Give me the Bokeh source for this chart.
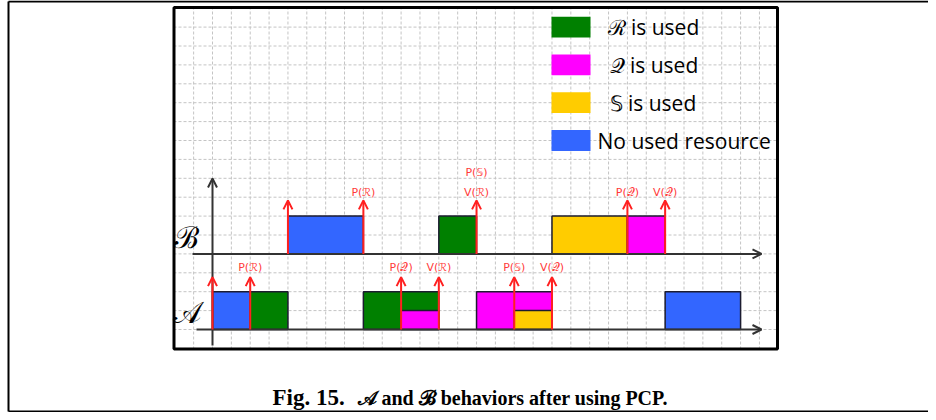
import numpy as np
from bokeh.plotting import figure
from bokeh.models import Range1d, Arrow, OpenHead, ColumnDataSource
from bokeh.core.properties import value
from bokeh.embed import file_html
from bokeh.resources import INLINE

# ---------------- data ----------------
RES_KEYS = ["R", "Q", "S", "none"]
RES_LABELS = ["ℛ is used", "𝒬 is used", "𝕊 is used", "No used resource"]
RES_COLORS = ["#008000", "#ff00ff", "#ffcc00", "#3366ff"]

# task B (upper row)
B_START = [4, 12, 18, 22]
B_END = [8, 14, 22, 24]
B_RES = ["none", "R", "S", "Q"]

# task A (lower row); A_TOP = height of the block (split blocks are half height)
A_START = [0, 2, 8, 10, 14, 16, 24]
A_END = [2, 4, 12, 12, 18, 18, 28]
A_TOP = [2, 2, 2, 1, 2, 1, 2]
A_RES = ["none", "R", "R", "Q", "Q", "S", "none"]

# release / semaphore event arrows
B_ARROWS = [4, 8, 14, 22, 24]
A_ARROWS = [0, 2, 10, 12, 16, 18]
B_EVENT_T = [8, 14, 14, 22, 24]
B_EVENT = ["P(ℛ)", "V(ℛ)", "P(𝕊)", "P(𝒬)", "V(𝒬)"]
B_EVENT_ROW = [0, 0, 1, 0, 0]
A_EVENT_T = [2, 10, 12, 16, 18]
A_EVENT = ["P(ℛ)", "P(𝒬)", "V(ℛ)", "P(𝕊)", "V(𝒬)"]

ROW_NAMES = ["ℬ", "𝒜"]
CAPTION_A = "Fig. 15."
CAPTION_B = "𝒜 and ℬ behaviors after using PCP."

BAR_H = 2
B_BASE = 4
A_BASE = 0

# ---------------- layout helpers (picture pixels -> data units) ----------------
PX_X, X0 = 18.86, 212.0
PX_Y, Y0 = 18.9, 329.0
def tx(px):
    return (px - X0) / PX_X
def ty(py):
    return (Y0 - py) / PX_Y

W, H = 928, 412
color_of = dict(zip(RES_KEYS, RES_COLORS))

p = figure(width=W, height=H,
           x_range=Range1d(tx(0), tx(W)), y_range=Range1d(ty(H), ty(0)),
           x_axis_type=None, y_axis_type=None, min_border=0,
           outline_line_color=None, toolbar_location=None,
           output_backend="svg", background_fill_color="white")
p.grid.visible = False

# grid inside inner box
gx = np.arange(-1, 30)
p.segment(x0=gx, y0=ty(349), x1=gx, y1=ty(7), line_color="#c4c4c4",
          line_width=1, line_dash="3 2")
gy = np.arange(-1, 17)
p.segment(x0=tx(173), y0=gy, x1=tx(777), y1=gy, line_color="#c4c4c4",
          line_width=1, line_dash="3 2")

# inner box
p.quad(left=tx(173.5), right=tx(777), top=ty(7), bottom=ty(348.5),
       fill_color=None, line_color="black", line_width=3)

# outer frame (top, left & bottom)
p.segment(x0=[tx(8), tx(8), tx(8)], y0=[ty(1), ty(1), ty(411)],
          x1=[tx(W), tx(8), tx(W)], y1=[ty(1), ty(411), ty(411)],
          line_color="black", line_width=2)

# bars
p.quad(left=B_START, right=B_END, bottom=[B_BASE] * len(B_START),
       top=[B_BASE + BAR_H] * len(B_START),
       fill_color=[color_of[r] for r in B_RES], line_color="#1c1c30", line_width=1.5)
p.quad(left=A_START, right=A_END, bottom=[A_BASE] * len(A_START),
       top=[A_BASE + h for h in A_TOP],
       fill_color=[color_of[r] for r in A_RES], line_color="#1c1c30", line_width=1.5)

# axes with arrows
axis_src = ColumnDataSource(dict(x0=[tx(192), tx(196), 0], y0=[B_BASE, A_BASE, ty(345)],
                                 x1=[tx(761), tx(761), 0], y1=[B_BASE, A_BASE, ty(178)]))
p.add_layout(Arrow(source=axis_src, x_start="x0", y_start="y0", x_end="x1", y_end="y1",
                   line_color="#333333", line_width=2,
                   end=OpenHead(size=9, line_color="#333333", line_width=2)))

# red event arrows
RED = "#ff2020"
ev_src = ColumnDataSource(dict(
    x0=B_ARROWS + A_ARROWS,
    y0=[B_BASE] * len(B_ARROWS) + [A_BASE] * len(A_ARROWS),
    y1=[B_BASE + BAR_H + 0.83] * len(B_ARROWS) + [A_BASE + BAR_H + 0.77] * len(A_ARROWS)))
p.add_layout(Arrow(source=ev_src, x_start="x0", y_start="y0", x_end="x0", y_end="y1",
                   line_color=RED, line_width=2,
                   end=OpenHead(size=9, line_color=RED, line_width=2)))

lbl_font = value("DejaVu Sans")
p.text(x=B_EVENT_T, y=[B_BASE + BAR_H + 1.26 + 1.05 * r for r in B_EVENT_ROW], text=B_EVENT,
       text_align="center", text_baseline="middle", text_font=lbl_font,
       text_font_size="11px", text_color="#ff3a3a")
p.text(x=A_EVENT_T, y=[A_BASE + BAR_H + 1.3] * len(A_EVENT_T), text=A_EVENT,
       text_align="center", text_baseline="middle", text_font=lbl_font,
       text_font_size="11px", text_color="#ff3a3a")

# row names
p.text(x=[tx(186), tx(186)], y=[ty(237), ty(312)], text=ROW_NAMES,
       text_align="center", text_baseline="middle", text_font=value("DejaVu Serif"),
       text_font_size="30px", text_color="black")

# legend
leg_y = [16, 14, 12, 10]
p.quad(left=[tx(551)] * 4, right=[tx(590)] * 4, bottom=[y - 0.55 for y in leg_y],
       top=[y + 0.55 for y in leg_y], fill_color=RES_COLORS, line_color=None)
p.text(x=[tx(607), tx(609), tx(609), tx(597)], y=leg_y, text=RES_LABELS,
       text_align="left", text_baseline="middle", text_font=value("Open Sans"),
       text_font_size="21px", text_color="black")

# caption
p.text(x=[tx(272)], y=[ty(397)], text=[CAPTION_A], text_align="left",
       text_baseline="alphabetic", text_font=value("Liberation Serif"),
       text_font_style="bold", text_font_size="23px", text_color="black")
p.text(x=[tx(357)], y=[ty(397)], text=[CAPTION_B], text_align="left",
       text_baseline="alphabetic", text_font=value("Liberation Serif"),
       text_font_style="bold", text_font_size="20px", text_color="black")

open("out.html", "w").write(file_html(p, INLINE))
